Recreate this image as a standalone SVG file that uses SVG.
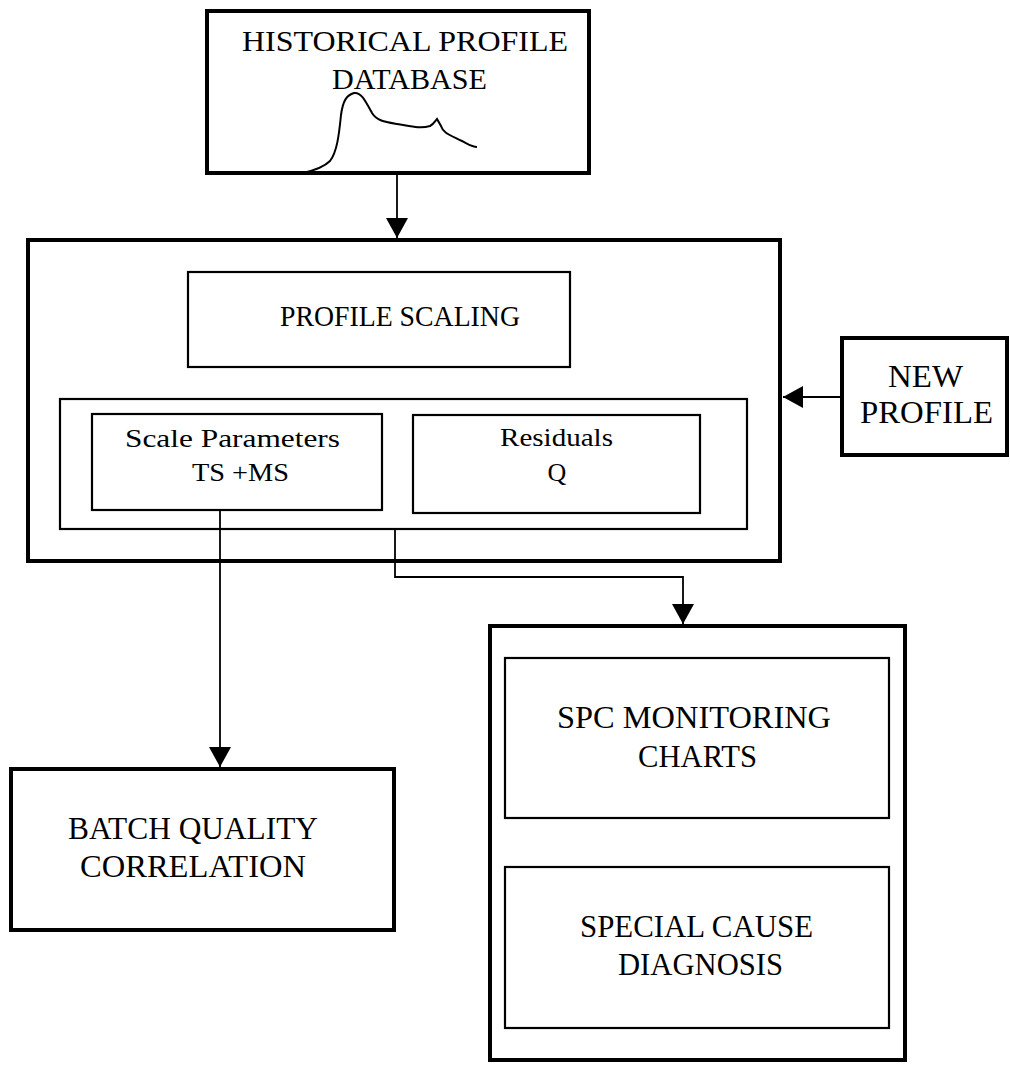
<svg xmlns="http://www.w3.org/2000/svg" width="1010" height="1070" viewBox="0 0 1010 1070">
<style>
.thick{fill:none;stroke:#000;stroke-width:4}
.thin{fill:none;stroke:#000;stroke-width:2.2}
.conn{fill:none;stroke:#000;stroke-width:1.8}
text{font-family:"Liberation Serif","Times New Roman",serif;fill:#000}
.big{font-size:29px}
.mid{font-size:32px}
.sm{font-size:26px}
</style>
<defs>
<marker id="arr" markerUnits="userSpaceOnUse" markerWidth="22" markerHeight="24" refX="20" refY="11" orient="auto">
<path d="M0,0 L20,11 L0,22 Z" fill="#000"/>
</marker>
</defs>
<rect width="1010" height="1070" fill="#fff"/>

<g id="historical-db">
<rect class="thick" x="207" y="11" width="382" height="162"/>
<text class="big" x="242" y="51" textLength="326" lengthAdjust="spacingAndGlyphs">HISTORICAL PROFILE</text>
<text class="big" x="332" y="89" textLength="155" lengthAdjust="spacingAndGlyphs">DATABASE</text>
<path fill="none" stroke="#000" stroke-width="2" d="M303,173 C316,170 324,167 330,161 C337,152 339,135 341,115 C343,100 347,95 354,93 C361,92 365,100 372,113 C377,121 385,122 397,124 C410,126 420,129 430,126 C434,124 435,121 437,119 L441,126 C443,133 450,135 462,141 C468,144 472,147 477,147"/>
</g>

<g id="main-scaling">
<rect class="thick" x="28" y="240" width="752" height="321"/>
</g>
<g id="profile-scaling">
<rect class="thin" x="188" y="272" width="382" height="95"/>
<text class="big" x="280" y="326" textLength="240" lengthAdjust="spacingAndGlyphs">PROFILE SCALING</text>
</g>
<g id="outputs-group">
<rect class="thin" x="60" y="399" width="687" height="130"/>
</g>
<g id="scale-parameters">
<rect class="thin" x="92" y="414" width="290" height="96"/>
<text class="sm" x="125" y="447" textLength="215" lengthAdjust="spacingAndGlyphs">Scale Parameters</text>
<text class="sm" x="192" y="481" textLength="97" lengthAdjust="spacingAndGlyphs">TS +MS</text>
</g>
<g id="residuals">
<rect class="thin" x="413" y="415" width="287" height="98"/>
<text class="sm" x="500" y="446" textLength="113" lengthAdjust="spacingAndGlyphs">Residuals</text>
<text class="sm" x="557" y="481" text-anchor="middle">Q</text>
</g>

<g id="new-profile">
<rect class="thick" x="842" y="338" width="165" height="117"/>
<text class="mid" x="888" y="387" textLength="75" lengthAdjust="spacingAndGlyphs">NEW</text>
<text class="mid" x="860" y="423" textLength="133" lengthAdjust="spacingAndGlyphs">PROFILE</text>
</g>

<g id="batch-quality">
<rect class="thick" x="11" y="769" width="383" height="161"/>
<text class="mid" x="68" y="839" textLength="250" lengthAdjust="spacingAndGlyphs">BATCH QUALITY</text>
<text class="mid" x="80" y="877" textLength="226" lengthAdjust="spacingAndGlyphs">CORRELATION</text>
</g>

<g id="spc-outer">
<rect class="thick" x="490" y="626" width="415" height="434"/>
</g>
<g id="spc-charts">
<rect class="thin" x="505" y="658" width="384" height="160"/>
<text class="mid" x="557" y="728" textLength="274" lengthAdjust="spacingAndGlyphs">SPC MONITORING</text>
<text class="mid" x="638" y="767" textLength="119" lengthAdjust="spacingAndGlyphs">CHARTS</text>
</g>
<g id="special-cause">
<rect class="thin" x="505" y="867" width="384" height="161"/>
<text class="mid" x="580" y="937" textLength="233" lengthAdjust="spacingAndGlyphs">SPECIAL CAUSE</text>
<text class="mid" x="618" y="975" textLength="165" lengthAdjust="spacingAndGlyphs">DIAGNOSIS</text>
</g>

<g id="connectors">
<path class="conn" d="M397,173 L397,238" marker-end="url(#arr)"/>
<path class="conn" d="M842,397 L783,397" stroke-width="3" marker-end="url(#arr)"/>
<path class="conn" d="M220,510 L220,767" marker-end="url(#arr)"/>
<path class="conn" d="M395,529 L395,577 L683,577 L683,624" marker-end="url(#arr)"/>
</g>
</svg>
